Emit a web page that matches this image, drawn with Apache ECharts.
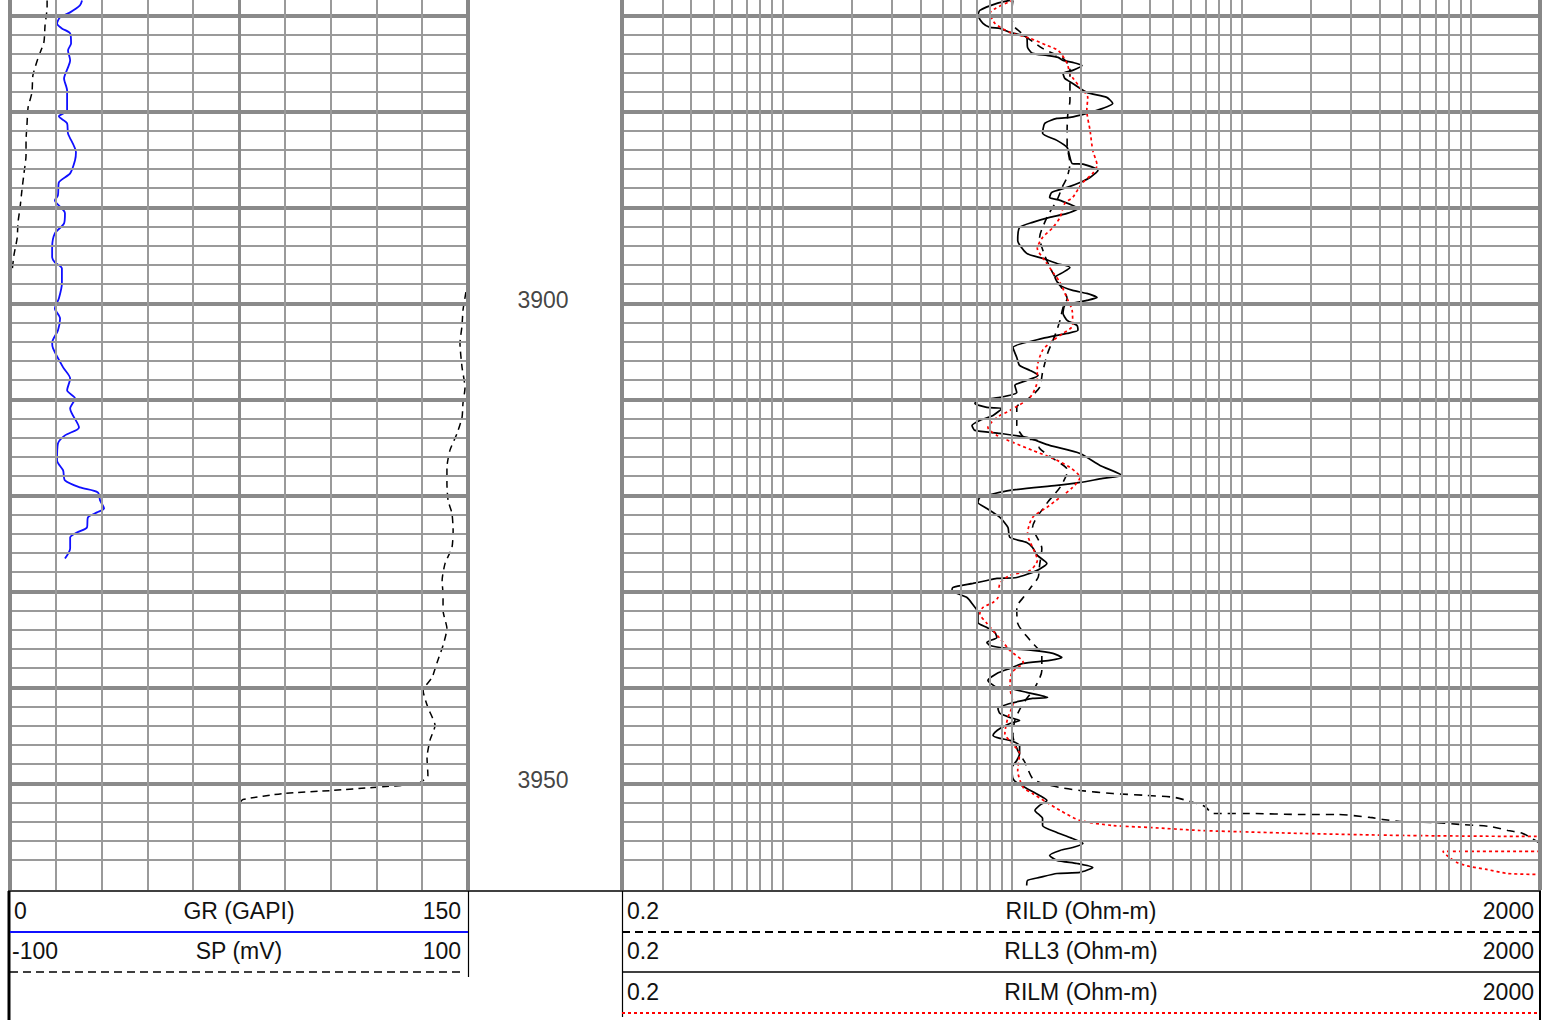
<!DOCTYPE html>
<html>
<head>
<meta charset="utf-8">
<script src="https://cdn.jsdelivr.net/npm/echarts@6/dist/echarts.min.js"></script>
<style>
html,body{margin:0;padding:0;background:#fff;}
#chart{width:1554px;height:1020px;}
</style>
</head>
<body>
<div id="chart"></div>
<script>
// ---------- data ----------
const depthMin = 3868.4, depthMax = 3961.1;
const depthLabels = [3900, 3950];

const grDepth = [3868.44,3868.96,3869.69,3870.21,3870.84,3871.36,3871.88,3872.92,3873.65,3874.69,3875.42,3876.57,3877.82,3879.9,3880.52,3881.25,3882.3,3884.27,3885.1,3886.46,3887.4,3888.75,3889.27,3890.6,3891.67,3892.71,3894.17,3895.2,3895.73,3896.36,3897.92,3899.48,3900.52,3901.57,3902.82,3904.07,3904.69,3906.67,3907.82,3909.06,3909.9,3910.94,3912.92,3913.75,3914.59,3916.36,3917.4,3918.44,3919.17,3919.69,3920.52,3921.36,3921.77,3922.3,3923.34,3923.86,3924.38,3925.52,3926.57];
const grValue = [23.6,22.9,19.7,16.4,15.4,17.0,19.7,20.0,19.0,19.7,19.0,17.7,18.7,18.7,16.0,18.7,19.0,21.6,21.3,19.7,16.0,15.7,14.7,18.0,17.7,14.7,13.8,13.8,14.7,17.0,17.0,16.0,14.7,16.4,15.7,13.8,14.1,17.4,19.7,18.7,21.3,19.7,22.6,18.0,15.7,15.4,17.4,18.0,22.9,28.8,29.5,30.8,28.5,25.5,25.2,21.9,19.7,19.7,18.0];

const spDepthUpper = [3868.44,3869.17,3871.04,3872.8,3874.48,3876.25,3878.02,3879.59,3881.46,3883.02,3884.59,3886.46,3888.23,3890.0,3891.57,3893.23,3895.0,3896.57,3897.19];
const spValueUpper = [-83.8,-83.8,-84.7,-85.2,-87.8,-90.0,-90.4,-92.1,-92.6,-93.0,-93.0,-93.9,-94.8,-95.6,-96.5,-96.9,-98.3,-99.1,-100];
const spDepthLower = [3897.6,3898.13,3899.38,3900.73,3902.3,3904.17,3906.67,3908.75,3910.42,3911.88,3913.55,3915.31,3917.09,3918.75,3920.52,3921.88,3923.65,3925.42,3927.08,3928.86,3930.42,3932.0,3933.86,3935.63,3937.4,3938.96,3940.31,3942.1,3943.96,3945.5,3947.3,3949.17,3950.0,3950.42,3950.73,3951.05,3951.67,3951.98];
const spValueLower = [100,99.6,98.7,97.8,97.4,96.5,97.4,98.7,97.8,97.4,95.2,92.1,90.8,90.8,91.3,93.0,93.5,93.0,90.0,88.7,89.1,89.1,90.8,89.1,86.5,84.3,80.4,82.5,85.6,83.4,82.1,82.5,78.2,58.5,41.1,19.2,1.7,0.4];

const rll3Depth = [3868.44,3868.75,3869.48,3870.0,3870.84,3871.25,3871.36,3871.77,3872.29,3873.34,3873.96,3874.17,3874.38,3874.69,3874.9,3875.21,3875.73,3876.04,3876.57,3877.09,3878.02,3878.54,3879.17,3879.69,3880.21,3880.63,3880.73,3881.25,3882.29,3883.02,3883.75,3884.79,3885.42,3885.5,3886.15,3886.88,3887.4,3887.92,3888.44,3888.96,3889.27,3890.11,3890.63,3891.04,3891.56,3892.09,3893.44,3894.79,3895.31,3895.84,3896.25,3896.77,3897.29,3898.13,3898.65,3898.96,3899.38,3899.69,3899.9,3900.21,3901.04,3901.77,3902.29,3902.81,3903.13,3903.65,3904.59,3905.63,3906.46,3906.98,3907.5,3908.02,3908.54,3909.27,3909.79,3910.11,3910.42,3910.84,3910.94,3911.67,3912.19,3912.71,3913.23,3913.54,3913.96,3914.79,3915.63,3916.88,3917.92,3918.23,3918.65,3918.96,3919.48,3920.21,3920.73,3921.36,3922.29,3923.34,3924.38,3924.9,3925.42,3926.25,3927.08,3927.81,3928.55,3928.65,3928.86,3929.17,3929.59,3929.9,3930.63,3931.25,3932.19,3933.23,3933.75,3934.27,3934.79,3935.31,3935.63,3935.94,3936.15,3936.46,3936.88,3937.19,3937.5,3938.02,3938.54,3939.27,3940.0,3940.11,3940.52,3941.04,3941.15,3941.35,3941.67,3942.19,3942.71,3943.13,3943.44,3943.75,3944.27,3944.69,3945.0,3945.31,3945.52,3946.04,3946.88,3947.61,3948.34,3949.48,3950.0,3950.52,3951.25,3951.77,3952.29,3952.81,3953.65,3954.38,3955.11,3955.63,3956.25,3956.67,3956.98,3957.5,3958.02,3958.34,3958.75,3959.27,3959.38,3959.79,3960.1,3960.63];
const rll3Value = [9.8,8.6,7.25,7.11,7.48,8.02,8.87,9.8,11.6,11.7,12.3,14.2,15.9,16.7,18.4,20.2,18.4,16.7,17.0,18.4,21.2,25.9,27.5,24.9,21.2,17.9,15.7,13.9,13.6,15.7,17.4,17.9,18.3,20.4,23.7,21.9,19.8,17.4,14.9,14.6,16.2,19.4,17.4,14.6,12.3,10.8,10.6,11.6,13.6,15.7,17.9,16.7,15.4,16.2,18.4,21.2,23.5,21.2,19.2,17.0,16.7,17.4,19.2,19.4,17.4,13.6,10.1,10.5,10.8,12.0,13.0,11.6,10.3,10.5,8.87,7.04,6.9,7.78,9.04,8.27,7.25,6.7,6.9,8.87,11.6,14.6,19.8,24.2,30.1,24.9,19.8,15.7,9.8,7.25,7.11,7.78,8.87,9.61,9.8,11.6,12.3,12.9,14.2,12.9,10.5,8.6,7.78,6.76,5.53,5.48,6.37,6.7,7.11,7.11,7.78,8.43,8.6,7.78,8.02,9.51,12.3,15.1,16.5,14.6,11.2,9.8,8.6,7.86,8.6,9.8,11.6,14.3,12.3,11.2,9.8,8.69,8.87,9.8,10.8,9.8,8.87,8.43,8.27,8.87,9.8,10.8,10.8,10.5,10.0,10.1,10.6,11.6,13.2,14.2,13.2,12.6,13.6,13.6,15.7,17.9,20.4,18.4,16.2,14.6,15.7,19.2,22.5,19.8,15.7,13.2,11.7,11.6];

const rildDepth = [3868.44,3869.48,3870.31,3871.25,3873.44,3874.48,3875.52,3876.77,3878.86,3880.42,3881.98,3883.54,3885.42,3886.88,3887.71,3889.27,3890.52,3891.56,3893.13,3895.0,3896.88,3898.13,3899.48,3900.42,3901.77,3903.33,3905.21,3907.19,3908.75,3909.79,3910.84,3912.71,3914.06,3914.27,3915.1,3916.15,3917.4,3919.17,3920.73,3923.34,3923.96,3925.52,3927.29,3928.55,3929.69,3930.42,3931.67,3933.33,3935.1,3936.67,3938.23,3940.0,3941.8,3943.44,3945.0,3946.56,3947.82,3949.48,3950.0,3950.42,3950.73,3951.05,3951.25,3951.46,3951.88,3952.4,3953.13,3953.13,3953.23,3953.23,3953.54,3953.75,3953.96,3954.06,3954.27,3954.48,3954.9,3955.21,3956.04,3956.25];
const rildValue = [10.1,10.0,10.0,10.3,13.6,16.7,17.9,17.9,17.9,17.5,17.4,17.4,17.9,17.4,16.7,15.7,14.6,13.9,13.2,13.9,15.1,16.2,17.4,16.7,16.2,15.4,14.3,13.6,13.2,12.0,10.5,10.5,11.4,12.9,13.2,15.1,17.5,16.2,14.3,12.3,12.6,13.5,13.2,13.0,12.0,11.4,10.5,10.6,12.0,13.5,13.5,12.6,11.1,10.3,10.1,10.6,11.4,12.3,13.6,16.2,19.8,27.5,38.7,51.3,59.6,69.3,75.1,108.8,179.7,260,363,413,490,682,894,1209,1447,1682,1936,2000];

const rilmDepth = [3868.44,3869.79,3870.84,3871.77,3872.4,3873.13,3873.65,3875.0,3876.04,3877.5,3878.54,3879.9,3881.98,3884.06,3885.63,3886.46,3887.5,3888.96,3889.58,3891.04,3892.09,3893.13,3894.27,3895.52,3896.77,3897.81,3899.48,3900.73,3902.29,3903.13,3903.85,3904.9,3906.67,3908.02,3909.79,3911.15,3911.88,3912.92,3913.75,3914.48,3915.31,3916.15,3917.08,3918.13,3919.17,3920.21,3921.25,3922.29,3923.96,3926.77,3927.81,3928.33,3929.17,3930.63,3931.15,3931.67,3932.29,3933.33,3934.9,3936.15,3937.4,3938.44,3940.0,3941.67,3943.13,3944.79,3945.83,3946.88,3948.65,3950.42,3951.05,3951.98,3952.81,3953.86,3954.38,3954.59,3954.9,3955.0,3955.21,3955.42,3955.52,3955.52];
const rilmValue = [10.1,8.02,8.43,9.8,12.0,14.2,15.9,17.4,17.9,19.8,21.4,21.2,21.9,22.5,23.5,22.5,20.2,18.4,17.0,16.2,15.1,13.6,12.9,13.9,15.1,16.2,17.4,18.3,18.4,16.7,15.1,13.6,12.9,12.9,12.0,9.8,8.6,7.86,8.6,10.1,12.3,15.1,17.9,19.8,18.4,16.2,14.2,12.3,11.7,12.9,12.0,9.8,8.87,8.69,8.27,7.48,7.25,7.78,8.87,9.8,11.2,10.0,9.8,10.1,9.61,9.32,10.0,10.8,10.6,11.2,12.3,14.2,16.2,19.8,27.5,39.9,65.9,89.0,185,505,1955,2000];
const rilmTailDepth = [3957.08,3957.08,3957.5,3958.23,3958.65,3958.96,3959.38,3959.48];
const rilmTailValue = [2000,754,785,868,989,1172,1447,2000];

// grid / scale tick values
const grTicks = [0,15,30,45,60,75,90,105,120,135,150];
const resTicks = [0.2,0.3,0.4,0.5,0.6,0.7,0.8,0.9,1,2,3,4,5,6,7,8,9,10,20,30,40,50,60,70,80,90,100,200,300,400,500,600,700,800,900,1000,2000];
const majorDepths = [3870,3880,3890,3900,3910,3920,3930,3940,3950];
const minorDepths = [];
for (let d = 3870; d <= 3960; d += 2) if (d % 10 !== 0) minorDepths.push(d);

// ---------- helpers ----------
function pairs(xs, ys) { const n = Math.min(xs.length, ys.length); const o = []; for (let i = 0; i < n; i++) o.push([xs[i], ys[i]]); return o; }
const MINOR = {color:'#9a9a9a', width:2, type:'solid'};
const MAJOR = {color:'#8a8a8a', width:4, type:'solid'};
function hLines() {
  return minorDepths.map(d => ({yAxis:d, lineStyle:MINOR})).concat(majorDepths.map(d => ({yAxis:d, lineStyle:MAJOR})));
}
const leftV = grTicks.map(v => ({xAxis:v, lineStyle: (v===0||v===150) ? {color:'#888',width:4,type:'solid'} : (v===75 ? {color:'#8a8a8a',width:3,type:'solid'} : MINOR)}));
const rightV = resTicks.map(v => ({xAxis:v, lineStyle: (v===0.2||v===2000) ? {color:'#888',width:4,type:'solid'} : MINOR}));

function gridSeries(xi, yi, lines) {
  return {type:'line', xAxisIndex:xi, yAxisIndex:yi, data:[], z:1, silent:true,
    markLine:{silent:true, symbol:['none','none'], label:{show:false}, animation:false, data:lines}};
}
function curve(name, xi, yi, data, ls, smooth) {
  return {name, type:'line', xAxisIndex:xi, yAxisIndex:yi, data, showSymbol:false, symbol:'none', z:3, silent:true, lineStyle:ls, animation:false, clip:true, smooth: smooth || 0};
}

const FONT = '23px "Liberation Sans", Arial, sans-serif';
function txt(t, x, y, align) {
  return {type:'text', silent:true, z:10, style:{text:t, x, y, font:FONT, fill:'#111', align:align, verticalAlign:'middle', textAlign:align, textVerticalAlign:'middle'}};
}
function ln(x1, y1, x2, y2, stroke, w, dash) {
  return {type:'line', silent:true, z:10, shape:{x1,y1,x2,y2}, style:{stroke, lineWidth:w, lineDash:dash||null}};
}

const chart = echarts.init(document.getElementById('chart'), null, {renderer:'svg'});
chart.setOption({
  animation:false,
  backgroundColor:'#fff',
  grid:[
    {left:10, top:0, width:458, height:890},
    {left:470, top:0, width:150, height:890},
    {left:622, top:0, width:918, height:890}
  ],
  xAxis:[
    {gridIndex:0, type:'value', min:0, max:150, show:false},
    {gridIndex:0, type:'value', min:-100, max:100, show:false},
    {gridIndex:1, type:'value', min:0, max:1, show:false},
    {gridIndex:2, type:'log', logBase:10, min:0.2, max:2000, show:false}
  ],
  yAxis:[0,1,2].map(i => ({gridIndex:i, type:'value', inverse:true, min:depthMin, max:depthMax, show:false})),
  series:[
    gridSeries(0, 0, hLines().concat(leftV)),
    gridSeries(3, 2, hLines().concat(rightV)),
    curve('GR', 0, 0, pairs(grValue, grDepth), {color:'#1010ff', width:1.8}, 0.25),
    curve('SP', 1, 0, pairs(spValueUpper, spDepthUpper), {color:'#000', width:1.5, type:[7,5]}, 0.2),
    curve('SP', 1, 0, pairs(spValueLower, spDepthLower), {color:'#000', width:1.5, type:[7,5]}, 0.2),
    curve('RILD', 3, 2, pairs(rildValue, rildDepth), {color:'#000', width:1.6, type:[8,6]}, 0.25),
    curve('RLL3', 3, 2, pairs(rll3Value, rll3Depth), {color:'#000', width:1.7}, 0.2),
    curve('RILM', 3, 2, pairs(rilmValue, rilmDepth), {color:'#ff0000', width:1.7, type:[3,3]}, 0.25),
    curve('RILM', 3, 2, pairs(rilmTailValue, rilmTailDepth), {color:'#ff0000', width:1.7, type:[3,3]}, 0.25),
    {type:'scatter', xAxisIndex:2, yAxisIndex:1, symbolSize:1, itemStyle:{color:'rgba(0,0,0,0)'}, silent:true, z:5,
      data: depthLabels.map(d => [0.5, d]),
      label:{show:true, position:'inside', formatter:p => String(p.value[1]), color:'#111', fontSize:23, fontFamily:'"Liberation Sans", Arial, sans-serif', offset:[-2,-3]}}
  ],
  graphic:[
    ln(8, 891, 1541, 891, '#000', 1.5),
    ln(9, 891, 9, 1020, '#000', 3),
    ln(468.5, 891, 468.5, 977, '#000', 1.2),
    ln(622.5, 891, 622.5, 1017, '#000', 1.2),
    ln(1540, 891, 1540, 1020, '#000', 2),
    ln(10, 932, 468, 932, '#1010ff', 2),
    ln(10, 972, 463, 972, '#000', 1.5, [8,5]),
    ln(622, 932, 1540, 932, '#000', 2, [8,5]),
    ln(622, 972, 1540, 972, '#000', 1.5),
    ln(622, 1013, 1540, 1013, '#ff0000', 2, [3,3]),
    txt('0', 14, 911, 'left'),
    txt('GR (GAPI)', 239, 911, 'center'),
    txt('150', 461, 911, 'right'),
    txt('-100', 12, 951, 'left'),
    txt('SP (mV)', 239, 951, 'center'),
    txt('100', 461, 951, 'right'),
    txt('0.2', 627, 911, 'left'),
    txt('RILD (Ohm-m)', 1081, 911, 'center'),
    txt('2000', 1534, 911, 'right'),
    txt('0.2', 627, 951, 'left'),
    txt('RLL3 (Ohm-m)', 1081, 951, 'center'),
    txt('2000', 1534, 951, 'right'),
    txt('0.2', 627, 992, 'left'),
    txt('RILM (Ohm-m)', 1081, 992, 'center'),
    txt('2000', 1534, 992, 'right')
  ]
});
</script>
</body>
</html>
